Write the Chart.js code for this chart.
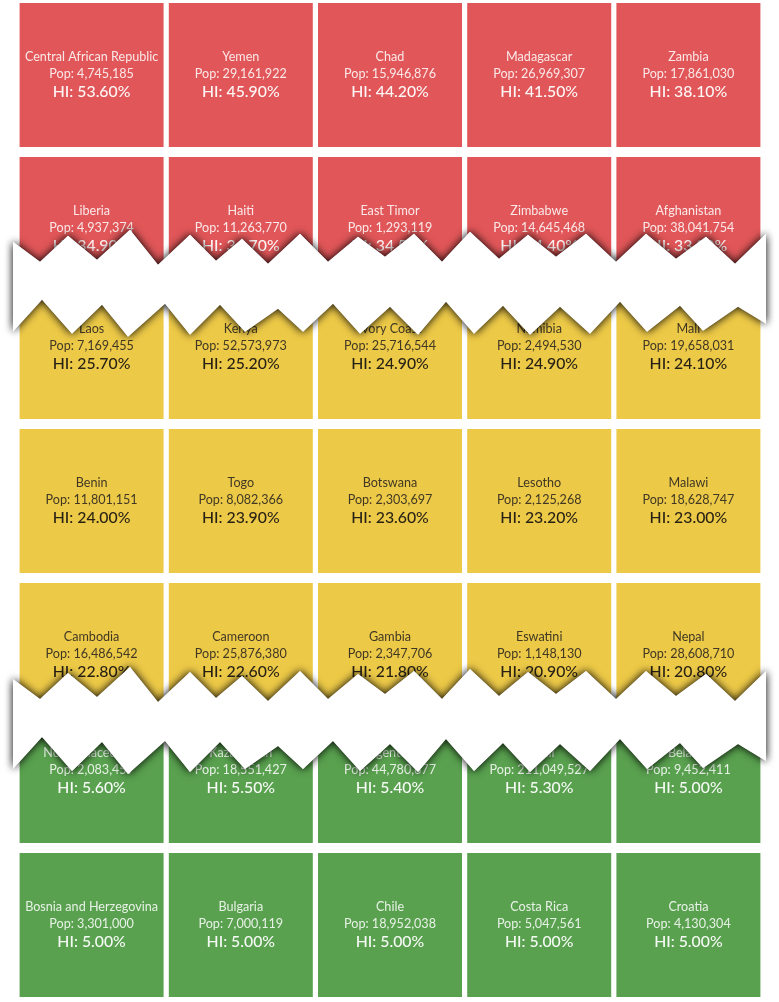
<!DOCTYPE html>
<html>
<head>
<meta charset="utf-8">
<script src="https://cdn.jsdelivr.net/npm/chart.js@4.4.1/dist/chart.umd.min.js"></script>
<style>
    html, body { margin: 0; padding: 0; background: #ffffff; }
    #wrap { width: 779px; height: 1002px; position: relative; }
</style>
</head>
<body>
<div id="wrap"><canvas id="hungerChart"></canvas></div>
<script>
// grid columns
var columns = ["c1", "c2", "c3", "c4", "c5"];

// one list per row of tiles, highest hunger index first
var countries = [
    ["Central African Republic", "Yemen", "Chad", "Madagascar", "Zambia"],
    ["Liberia", "Haiti", "East Timor", "Zimbabwe", "Afghanistan"],
    ["Laos", "Kenya", "Ivory Coast", "Namibia", "Mali"],
    ["Benin", "Togo", "Botswana", "Lesotho", "Malawi"],
    ["Cambodia", "Cameroon", "Gambia", "Eswatini", "Nepal"],
    ["North Macedonia", "Kazakhstan", "Argentina", "Brazil", "Belarus"],
    ["Bosnia and Herzegovina", "Bulgaria", "Chile", "Costa Rica", "Croatia"]
];
var population = [
    [4745185, 29161922, 15946876, 26969307, 17861030],
    [4937374, 11263770, 1293119, 14645468, 38041754],
    [7169455, 52573973, 25716544, 2494530, 19658031],
    [11801151, 8082366, 2303697, 2125268, 18628747],
    [16486542, 25876380, 2347706, 1148130, 28608710],
    [2083459, 18551427, 44780677, 211049527, 9452411],
    [3301000, 7000119, 18952038, 5047561, 4130304]
];
var hungerIndex = [
    [53.6, 45.9, 44.2, 41.5, 38.1],
    [34.9, 34.7, 34.5, 34.4, 33.8],
    [25.7, 25.2, 24.9, 24.9, 24.1],
    [24.0, 23.9, 23.6, 23.2, 23.0],
    [22.8, 22.6, 21.8, 20.9, 20.8],
    [5.6, 5.5, 5.4, 5.3, 5.0],
    [5.0, 5.0, 5.0, 5.0, 5.0]
];

// layout (row units: one row step = 154px)
var TILE_H = 144 / 154;
var CUT_A = 36 / 154;   // height lost in the first tear
var CUT_B = 38 / 154;   // height lost in the second tear
var TEARS = [1.68, 4.52]; // where the torn strips sit on the y scale

function rowTop(r) {
    var shift = 0;
    if (r >= 2) shift += CUT_A;
    if (r >= 5) shift += CUT_B;
    return r - shift;
}

function tileColor(hi) {
    if (hi >= 30) return "#e15759";
    if (hi >= 10) return "#edc948";
    return "#59a14f";
}

var datasets = countries.map(function (row, r) {
    return {
        label: "row " + (r + 1),
        data: row.map(function () { return [rowTop(r), rowTop(r) + TILE_H]; }),
        backgroundColor: hungerIndex[r].map(tileColor),
        borderWidth: 0,
        borderSkipped: false,
        grouped: false,
        categoryPercentage: 1,
        barPercentage: 144 / 149.2
    };
});

var tileLabels = {
    id: "tileLabels",
    afterDatasetsDraw: function (chart) {
        var ctx = chart.ctx;
        ctx.save();
        ctx.textAlign = "center";
        ctx.textBaseline = "middle";
        chart.data.datasets.forEach(function (ds, r) {
            chart.getDatasetMeta(r).data.forEach(function (bar, c) {
                var hi = hungerIndex[r][c];
                var cy = (bar.y + bar.base) / 2;
                var dark = hi >= 10 && hi < 30;
                ctx.fillStyle = dark ? "rgba(45,40,32,0.9)" : "rgba(255,255,255,0.86)";
                ctx.font = "12.6px Lato";
                ctx.fillText(countries[r][c], bar.x, cy - 18);
                ctx.fillText("Pop: " + population[r][c].toLocaleString("en-US"), bar.x, cy - 1);
                ctx.fillStyle = dark ? "rgba(28,24,18,0.95)" : "rgba(255,255,255,0.94)";
                ctx.font = "500 15.8px Lato";
                ctx.fillText("HI: " + hi.toFixed(2) + "%", bar.x, cy + 17);
            });
        });
        ctx.restore();
    }
};

// zigzag outline of a torn strip, offsets from the tear line
var tearTop = [[13, -20], [40, 0], [68, -26], [97, -2], [130, -32], [158, 3], [190, -27], [216, -1],
    [242, -23], [268, 2], [300, -28], [328, 0], [358, -25], [385, -5], [414, -28], [442, 0],
    [470, -30], [499, -3], [528, -27], [556, -5], [586, -28], [616, 0], [646, -28], [676, -3],
    [706, -25], [735, 2], [766, -28]];
var tearBottom = [[13, 70], [42, 38], [72, 72], [102, 43], [128, 75], [165, 42], [190, 73], [220, 43],
    [245, 70], [278, 47], [303, 70], [333, 42], [360, 72], [390, 45], [418, 73], [446, 40],
    [474, 72], [503, 44], [530, 73], [560, 45], [590, 72], [620, 40], [647, 70], [680, 44],
    [703, 69], [738, 45], [766, 62]];

var tornStrips = {
    id: "tornStrips",
    afterDraw: function (chart) {
        var ctx = chart.ctx;
        var yScale = chart.scales.y;
        TEARS.forEach(function (v) {
            var y0 = yScale.getPixelForValue(v);
            ctx.save();
            ctx.beginPath();
            tearTop.forEach(function (p, i) {
                if (i === 0) ctx.moveTo(p[0], y0 + p[1]);
                else ctx.lineTo(p[0], y0 + p[1]);
            });
            for (var i = tearBottom.length - 1; i >= 0; i--) {
                ctx.lineTo(tearBottom[i][0], y0 + tearBottom[i][1]);
            }
            ctx.closePath();
            ctx.fillStyle = "#ffffff";
            ctx.shadowColor = "rgba(0,0,0,0.6)";
            ctx.shadowBlur = 9;
            ctx.fill();
            ctx.fill();
            ctx.restore();
        });
    }
};

var chart = new Chart(document.getElementById("hungerChart"), {
    type: "bar",
    data: { labels: columns, datasets: datasets },
    options: {
        responsive: true,
        maintainAspectRatio: false,
        animation: false,
        layout: { padding: { left: 17, right: 16, top: 3, bottom: 5 } },
        plugins: { legend: { display: false }, tooltip: { enabled: false } },
        scales: {
            x: { display: false, offset: true },
            y: { display: false, reverse: true, min: 0, max: rowTop(6) + TILE_H }
        }
    },
    plugins: [tileLabels, tornStrips]
});
</script>
</body>
</html>
